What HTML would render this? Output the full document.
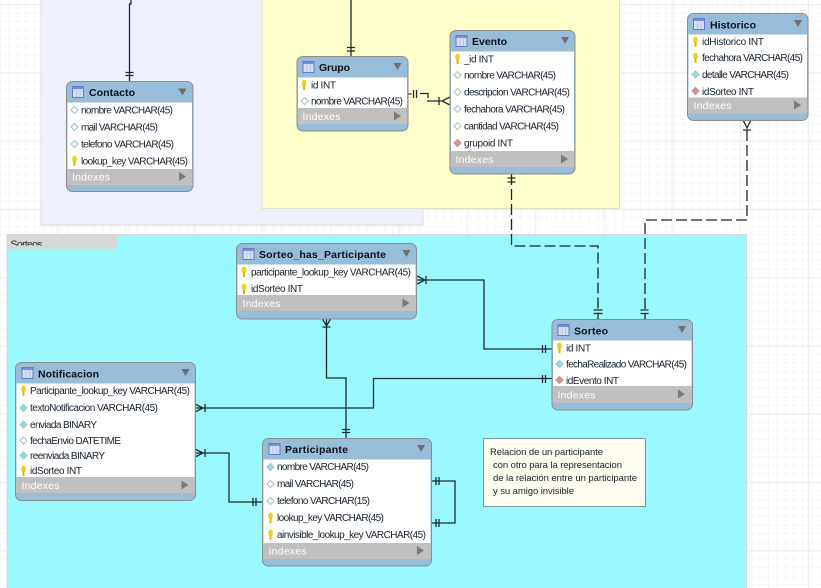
<!DOCTYPE html>
<html><head><meta charset="utf-8"><style>
html,body{margin:0;padding:0;background:#fff;width:821px;height:588px;overflow:hidden}
svg{display:block}
text{font-family:"Liberation Sans",sans-serif;font-size:10px;fill:#15202c}
.t{font-weight:bold;font-size:10.500px;fill:#0a0f18}
.i{fill:#fff;font-size:10.500px}
.o{fill:#98bdd8;stroke:#8a8c8e;stroke-width:1}
.w{fill:#fff}.g{fill:#c0c0c0}
.l{fill:none;stroke:#1c2c2e;stroke-width:1.3}
.d{fill:none;stroke:#222;stroke-width:1.3;stroke-dasharray:11 4}
.n{font-size:9.500px}
</style></head><body>
<svg width="821" height="588" viewBox="0 0 821 588" xmlns="http://www.w3.org/2000/svg">
<defs>
<pattern id="m" width="8.533" height="8.533" patternUnits="userSpaceOnUse" x="0" y="4"><path d="M0 .5H8.533M.5 0V8.533" stroke="#f6f6f6" fill="none"/></pattern>
<pattern id="M" width="68.27" height="68.27" patternUnits="userSpaceOnUse" x="57" y="4"><path d="M0 .5H68.27M.5 0V68.27" stroke="#eeeeee" fill="none" stroke-width="1.4"/></pattern>
<g id="tb"><rect x=".5" y=".5" width="11" height="11" fill="#d4def4" stroke="#6678c8"/><rect x="1" y="1" width="10" height="2" fill="#7a8cdc"/><path d="M4.500 3.500V11M8 3.500V11" stroke="#b8c4e6"/></g>
<g id="k"><ellipse cx="0" cy="-2" rx="2.400" ry="3.400" fill="#f4cf1a"/><rect x="-1" y="0" width="2" height="5" fill="#e0b410"/></g>
<path id="e" d="M0 -3.500L3.500 0L0 3.500L-3.500 0Z" fill="#fff" stroke="#9cc4c8"/>
<path id="c" d="M0 -3.500L3.500 0L0 3.500L-3.500 0Z" fill="#86e2ea" stroke="#9cc4c8"/>
<path id="f" d="M0 -3.500L3.500 0L0 3.500L-3.500 0Z" fill="#e58a8a" stroke="#c09090"/>
<path id="dn" d="M-4 -3.500H4L0 3.500Z" fill="#6e6e6e"/>
<path id="rt" d="M-3 -4.500L4 0L-3 4.500Z" fill="#7a7a7a"/>
</defs>
<rect width="821" height="588" fill="#fff"/>
<rect width="821" height="588" fill="url(#m)"/>
<rect width="821" height="588" fill="url(#M)"/>

<!-- layers -->
<rect x="41" y="-2" width="382" height="227" fill="#eef0fd" stroke="#dcdcdc"/>
<rect x="262" y="-2" width="357.500" height="210.500" fill="#ffffcc" stroke="#e2e2cc"/>
<rect x="7" y="234.500" width="739.500" height="356" fill="#99f9ff" stroke="#d6d6d6"/>
<path d="M7 235H117V245Q117 249 113 249H7Z" fill="#d8d8d8"/>
<svg x="7" y="235" width="110" height="10.500"><text x="3.500" y="12.500" textLength="32" style="font-size:10.500px">Sorteos</text></svg>

<!-- connectors -->
<path class="l" d="M131 0V4H129.500V81M125.500 72.500H133.500M125.500 75.500H133.500"/>
<path class="l" d="M351 0V56M347 47.500H355M347 51H355"/>
<path class="l" d="M408 94H411.500M413.500 90V98M416.500 90V98"/>
<path class="l" d="M420 93.500H428V98M427 101H441M439 97V105M450 97L442 101L450 105"/>
<path class="d" d="M511.500 174V246H598V319"/>
<path class="l" d="M507.500 178H515.500M507.500 182H515.500M593.500 310H602.500M593.500 313.500H602.500"/>
<path class="d" d="M747 130V220H645V319"/>
<path class="l" d="M743 120L747 128L751 120M743 130H751M640.500 310H648.500M640.500 313.500H648.500"/>
<path class="l" d="M417 280H484V349H552M417 276L425 280L417 284M426 276V284M542.500 345V353M545.500 345V353"/>
<path class="l" d="M326.500 319V378H346V438M322.500 319L326.500 326L330.500 319M322.500 327H330.500M342 429.500H350M342 432.500H350"/>
<path class="l" d="M195 408H373.500V378.500H552M195 404L203 408L195 412M205 404V412M542.500 375V383M545.500 375V383"/>
<path class="l" d="M195 453H229V502H262.500M195 449L203 453L195 457M205 449V457M253 498V506M256 498V506"/>
<path class="l" d="M431.500 481H455V523H431.500M436 477V485M439 477V485M436 519V527M439 519V527"/>

<!-- Contacto -->
<rect class="o" x="66.500" y="81.500" width="126.500" height="110" rx="6"/>
<rect class="w" x="67.500" y="102.500" width="124.500" height="66.500"/><rect class="g" x="67" y="169" width="125.500" height="16"/>
<use href="#tb" x="72" y="86"/><text class="t" x="89" y="96" textLength="46">Contacto</text><use href="#dn" x="182.500" y="92"/>
<use href="#e" x="74.500" y="110"/><text x="81" y="113.500" textLength="92">nombre VARCHAR(45)</text>
<use href="#e" x="74.500" y="127"/><text x="81" y="130.500" textLength="77">mail VARCHAR(45)</text>
<use href="#e" x="74.500" y="144"/><text x="81" y="147.500" textLength="93">telefono VARCHAR(45)</text>
<use href="#k" x="74.500" y="161"/><text x="81" y="164.500" textLength="107">lookup_key VARCHAR(45)</text>
<text class="i" x="72" y="180.500" textLength="38">Indexes</text><use href="#rt" x="182" y="176.500"/>

<!-- Grupo -->
<rect class="o" x="297" y="56.500" width="111" height="74.500" rx="6"/>
<rect class="w" x="298" y="77.500" width="109" height="30.500"/><rect class="g" x="297.500" y="108" width="110" height="16"/>
<use href="#tb" x="302.500" y="61"/><text class="t" x="319" y="71" textLength="31">Grupo</text><use href="#dn" x="397.500" y="66.500"/>
<use href="#k" x="304" y="85"/><text x="311" y="88.500" textLength="25">id INT</text>
<use href="#e" x="304.500" y="101"/><text x="311" y="104.500" textLength="92">nombre VARCHAR(45)</text>
<text class="i" x="302.500" y="120" textLength="38">Indexes</text><use href="#rt" x="397" y="116"/>

<!-- Evento -->
<rect class="o" x="450" y="30.500" width="125" height="143.500" rx="6"/>
<rect class="w" x="451" y="51.500" width="123" height="99.500"/><rect class="g" x="450.500" y="151" width="124" height="16"/>
<use href="#tb" x="455.500" y="35"/><text class="t" x="472" y="45" textLength="35">Evento</text><use href="#dn" x="565" y="40.500"/>
<use href="#k" x="457.500" y="59"/><text x="464" y="62.500" textLength="30">_id INT</text>
<use href="#e" x="457.500" y="75"/><text x="464" y="78.500" textLength="92">nombre VARCHAR(45)</text>
<use href="#e" x="457.500" y="92"/><text x="464" y="95.500" textLength="106">descripcion VARCHAR(45)</text>
<use href="#e" x="457.500" y="109"/><text x="464" y="112.500" textLength="101">fechahora VARCHAR(45)</text>
<use href="#e" x="457.500" y="126"/><text x="464" y="129.500" textLength="95">cantidad VARCHAR(45)</text>
<use href="#f" x="457.500" y="143"/><text x="464" y="146.500" textLength="49">grupoid INT</text>
<text class="i" x="455.500" y="163" textLength="38">Indexes</text><use href="#rt" x="564" y="159"/>

<!-- Historico -->
<rect class="o" x="687.500" y="13.500" width="120.500" height="107" rx="6"/>
<rect class="w" x="688.500" y="34.500" width="118.500" height="63"/><rect class="g" x="688" y="97.500" width="119.500" height="16"/>
<use href="#tb" x="693" y="18"/><text class="t" x="710" y="28.500" textLength="46">Historico</text><use href="#dn" x="798" y="23.500"/>
<use href="#k" x="695.500" y="42"/><text x="702" y="45" textLength="62">idHistorico INT</text>
<use href="#k" x="695.500" y="58"/><text x="702" y="61" textLength="101">fechahora VARCHAR(45)</text>
<use href="#c" x="695.500" y="74.500"/><text x="702" y="78" textLength="87">detalle VARCHAR(45)</text>
<use href="#f" x="695.500" y="91"/><text x="702" y="95" textLength="52">idSorteo INT</text>
<text class="i" x="693.500" y="109" textLength="38">Indexes</text><use href="#rt" x="797" y="105"/>

<!-- Sorteo_has_Participante -->
<rect class="o" x="236.500" y="243.500" width="180" height="75.500" rx="6"/>
<rect class="w" x="237.500" y="264.500" width="178" height="30.500"/><rect class="g" x="237" y="295" width="179" height="16"/>
<use href="#tb" x="242.500" y="248"/><text class="t" x="259" y="258" textLength="127">Sorteo_has_Participante</text><use href="#dn" x="406.500" y="253.500"/>
<use href="#k" x="244" y="272"/><text x="251" y="275.500" textLength="160">participante_lookup_key VARCHAR(45)</text>
<use href="#k" x="244" y="289"/><text x="251" y="292" textLength="52">idSorteo INT</text>
<text class="i" x="242.500" y="307" textLength="38">Indexes</text><use href="#rt" x="405.500" y="303"/>

<!-- Sorteo -->
<rect class="o" x="552" y="319.500" width="140.500" height="90.500" rx="6"/>
<rect class="w" x="553" y="340.500" width="138.500" height="45.500"/><rect class="g" x="552.500" y="386" width="139.500" height="17"/>
<use href="#tb" x="557.500" y="324"/><text class="t" x="574" y="334.500" textLength="34">Sorteo</text><use href="#dn" x="682" y="329.500"/>
<use href="#k" x="559.500" y="348"/><text x="566" y="351.500" textLength="25">id INT</text>
<use href="#c" x="559.500" y="364"/><text x="566" y="367.500" textLength="121">fechaRealizado VARCHAR(45)</text>
<use href="#f" x="559.500" y="380"/><text x="566" y="384" textLength="53">idEvento INT</text>
<text class="i" x="557.500" y="398.500" textLength="38">Indexes</text><use href="#rt" x="681" y="394"/>

<!-- Notificacion -->
<rect class="o" x="15.500" y="362.500" width="180" height="138" rx="6"/>
<rect class="w" x="16.500" y="383.500" width="178" height="93.500"/><rect class="g" x="16" y="477" width="179" height="16"/>
<use href="#tb" x="21.500" y="367"/><text class="t" x="38" y="377.500" textLength="61">Notificacion</text><use href="#dn" x="185.500" y="372.500"/>
<use href="#k" x="23.500" y="391"/><text x="30" y="394" textLength="160">Participante_lookup_key VARCHAR(45)</text>
<use href="#c" x="23.500" y="408"/><text x="30" y="411" textLength="128">textoNotificacion VARCHAR(45)</text>
<use href="#c" x="23.500" y="424.500"/><text x="30" y="428" textLength="67">enviada BINARY</text>
<use href="#e" x="23.500" y="440.500"/><text x="30" y="444" textLength="91">fechaEnvio DATETIME</text>
<use href="#c" x="23.500" y="455.500"/><text x="30" y="459" textLength="75">reenviada BINARY</text>
<use href="#k" x="23.500" y="471"/><text x="30" y="474" textLength="52">idSorteo INT</text>
<text class="i" x="21.500" y="489" textLength="38">Indexes</text><use href="#rt" x="184.500" y="485"/>

<!-- Participante -->
<rect class="o" x="262.500" y="438.500" width="169" height="127.500" rx="6"/>
<rect class="w" x="263.500" y="459.500" width="167" height="83.500"/><rect class="g" x="263" y="543" width="168" height="16"/>
<use href="#tb" x="268.500" y="443"/><text class="t" x="285" y="453" textLength="63">Participante</text><use href="#dn" x="421" y="448.500"/>
<use href="#c" x="270.500" y="467"/><text x="277" y="470" textLength="92">nombre VARCHAR(45)</text>
<use href="#e" x="270.500" y="484"/><text x="277" y="487" textLength="77">mail VARCHAR(45)</text>
<use href="#e" x="270.500" y="501"/><text x="277" y="504" textLength="93">telefono VARCHAR(15)</text>
<use href="#k" x="270.500" y="518"/><text x="277" y="521" textLength="107">lookup_key VARCHAR(45)</text>
<use href="#k" x="270.500" y="535"/><text x="277" y="538" textLength="149">ainvisible_lookup_key VARCHAR(45)</text>
<text class="i" x="268.500" y="554.500" textLength="38">Indexes</text><use href="#rt" x="420" y="550.500"/>

<!-- note -->
<rect x="483.500" y="438.500" width="162" height="68" fill="#fffdf0" stroke="#7c9a9e"/>
<text class="n" x="490" y="455" textLength="113">Relacion de un participante</text>
<text class="n" x="493" y="468" textLength="129">con otro para la representacion</text>
<text class="n" x="493" y="481" textLength="144">de la relación entre un participante</text>
<text class="n" x="493" y="494" textLength="81">y su amigo invisible</text>
</svg>
</body></html>
